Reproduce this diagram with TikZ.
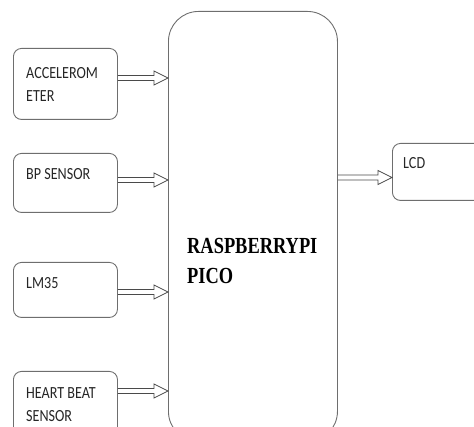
\documentclass[tikz,border=0pt]{standalone}
\usepackage{fontspec}
\usepackage{xcolor}
\usepackage{tikz}
\usetikzlibrary{calc,positioning}
\newfontfamily\tagfont[FakeStretch=0.83]{Carlito}
\newfontfamily\chipfont[FakeStretch=0.8]{Liberation Serif}
\definecolor{boxline}{HTML}{6E6E6E}
\definecolor{arrline}{HTML}{4A4A4A}
\definecolor{tagcol}{HTML}{262626}
\tikzset{
  blockbox/.style = {draw=boxline, line width=0.9pt, rounded corners=8pt,
                     anchor=north west, inner sep=0pt},
  tagtext/.style  = {font=\tagfont\fontsize{17}{23}\selectfont, text=tagcol,
                     align=left, anchor=north west, inner sep=0pt},
  chiptext/.style = {font=\chipfont\bfseries\fontsize{23}{30}\selectfont,
                     align=left, anchor=north west, inner sep=0pt},
  hollow/.style   = {draw=arrline, line width=0.7pt, line join=miter,
                     to path={([yshift=2.5pt]\tikztostart)
                       -- ([shift={(-14pt,2.5pt)}]\tikztotarget)
                       -- ([shift={(-14pt,7pt)}]\tikztotarget)
                       -- (\tikztotarget)
                       -- ([shift={(-14pt,-7pt)}]\tikztotarget)
                       -- ([shift={(-14pt,-2.5pt)}]\tikztotarget)
                       -- ([yshift=-2.5pt]\tikztostart)}},
}
\begin{document}
\begin{tikzpicture}[x=1pt, y=-1pt]
  \useasboundingbox (0,0) rectangle (474,427);
  \clip (0,0) rectangle (474,427);

  % sensors
  \node[blockbox, minimum width=104pt, minimum height=71pt] (accel) at (13,48) {};
  \node[blockbox, minimum width=104pt, minimum height=59pt] (bp) at (13,153) {};
  \node[blockbox, minimum width=104pt, minimum height=55pt] (lm35) at (13,262) {};
  \node[blockbox, minimum width=104pt, minimum height=70pt] (heart) at (13,371) {};

  % controller and display
  \node[blockbox, rounded corners=30pt, minimum width=169pt, minimum height=430pt] (pico) at (168,11) {};
  \node[blockbox, minimum width=110pt, minimum height=57pt] (lcd) at (392,143) {};

  % texts
  \node[tagtext] (accel-t) at (26,67) {ACCELEROM\\ETER};
  \node[tagtext] (bp-t) at (26,168) {BP SENSOR};
  \node[tagtext] (lm35-t) at (26,277) {LM35};
  \node[tagtext] (heart-t) at (26,387) {HEART BEAT\\SENSOR};
  \node[tagtext] (lcd-t) at (403,157) {LCD};
  \node[chiptext] (pico-t) at (187,238) {RASPBERRYPI\\PICO};

  % arrows
  \foreach \src/\yy in {accel/78, bp/180, lm35/292, heart/391}
    {\coordinate (\src-o) at (\src.east |- 0,\yy);
     \coordinate (\src-i) at (pico.west |- 0,\yy);
     \draw[hollow] (\src-o) to (\src-i);}
  \coordinate (pico-o) at (pico.east |- 0,177.5);
  \coordinate (lcd-i) at (lcd.west |- 0,177.5);
  \draw[hollow] (pico-o) to (lcd-i);
\end{tikzpicture}
\end{document}
